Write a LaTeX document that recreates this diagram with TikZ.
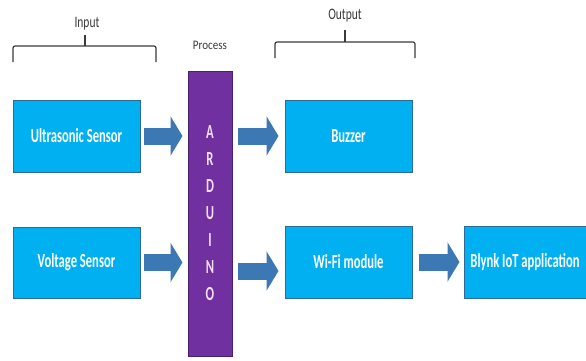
\documentclass[tikz,border=0pt]{standalone}
\usepackage{fontspec}
\setmainfont{Carlito}
\newfontfamily\condfont[FakeStretch=0.63]{Carlito}
\newfontfamily\labfont[FakeStretch=0.72]{Carlito}
\newfontfamily\procfont[FakeStretch=0.85]{Carlito}
\usetikzlibrary{arrows.meta}
\definecolor{boxfill}{HTML}{00B0F0}
\definecolor{boxline}{HTML}{2F6B9A}
\definecolor{ardfill}{HTML}{7030A0}
\definecolor{ardline}{HTML}{4B1F6F}
\definecolor{arrowc}{HTML}{3C78B4}
\definecolor{labc}{HTML}{3A3A3A}
\definecolor{ardtext}{HTML}{F3DDF7}
\begin{document}
\begin{tikzpicture}[x=1pt,y=-1pt,
  blockbox/.style={draw=boxline, line width=1pt, fill=boxfill, minimum width=127pt,
    minimum height=72pt, inner sep=0pt, text=white,
    font=\condfont\bfseries\fontsize{20}{20}\selectfont},
  ardbox/.style={draw=ardline, line width=1pt, fill=ardfill, minimum width=44pt,
    minimum height=285pt, inner sep=0pt, text=ardtext, align=center,
    font=\condfont\bfseries\fontsize{20}{27}\selectfont},
  blockarrow/.style={draw=arrowc, line width=17pt,
    -{Triangle[length=12pt,width=39pt]}},
  bracket/.style={draw=labc, line width=1.2pt, rounded corners=2pt},
  toplabel/.style={text=labc, inner sep=0pt, font=\labfont\fontsize{16}{16}\selectfont},
  proclabel/.style={text=labc, inner sep=0pt, font=\procfont\fontsize{13}{13}\selectfont}
]
\useasboundingbox (0,0) rectangle (586,360);

% boxes
\node[blockbox] (us) at (76.5,136) {Ultrasonic Sensor};
\node[blockbox, minimum height=71pt] (vs) at (76.5,262.5) {Voltage Sensor};
\node[ardbox] (ard) at (210,213.5) {A\\R\\D\\U\\I\\N\\O};
\node[blockbox] (bz) at (348.5,136) {Buzzer};
\node[blockbox] (wf) at (348.5,262) {Wi-Fi module};
\node[blockbox, minimum width=122pt] (bl) at (525,262) {Blynk IoT application};

% arrows
\draw[blockarrow] ([xshift=3pt]us.east) -- ([xshift=-5pt]us.east -| ard.west);
\draw[blockarrow] ([xshift=3pt]vs.east) -- ([xshift=-5pt]vs.east -| ard.west);
\draw[blockarrow] ([xshift=5pt]bz.west -| ard.east) -- ([xshift=-6pt]bz.west);
\draw[blockarrow] ([xshift=5pt,yshift=-9pt]wf.west -| ard.east) -- ([xshift=-6pt,yshift=-9pt]wf.west);
\draw[blockarrow] ([xshift=6pt]wf.east) -- ([xshift=-4pt]bl.west);

% brackets and labels
\draw[bracket] (13,62) -- (13,46) -- (156,46) -- (156,62);
\draw[labc, line width=1.2pt] (85,46) -- (85,35);
\node[toplabel] (inlab) at (87,24) {Input};

\node[proclabel] (proclab) at (210,45) {Process};

\draw[bracket] (275,58) -- (275,42) -- (415,42) -- (415,58);
\draw[labc, line width=1.2pt] (345,42) -- (345,30);
\node[toplabel] (outlab) at (345,16) {Output};
\end{tikzpicture}
\end{document}
